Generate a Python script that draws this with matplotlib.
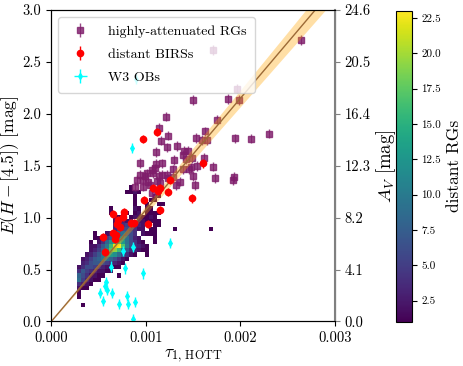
import numpy as np
import matplotlib
matplotlib.use('Agg')
import matplotlib.pyplot as plt

plt.rcParams['font.family'] = 'serif'
plt.rcParams['font.serif'] = ['cmr10', 'DejaVu Serif']
plt.rcParams['mathtext.fontset'] = 'cm'
plt.rcParams['axes.formatter.use_mathtext'] = True

# highly-attenuated red giants
rg_x = [0.002637, 0.001710, 0.001961, 0.001872, 0.001988, 0.001495, 0.001208, 0.001749,
        0.001134, 0.001239, 0.001629, 0.002299, 0.001525, 0.001591, 0.001643, 0.001943,
        0.002112, 0.001160, 0.001220, 0.001326, 0.001110, 0.001403, 0.001449, 0.001396,
        0.001424, 0.001485, 0.001615, 0.001298, 0.000938, 0.001107, 0.001167, 0.001474,
        0.001538, 0.001713, 0.001290, 0.001390, 0.001459, 0.001062, 0.001097, 0.000938,
        0.000991, 0.001079, 0.001142, 0.001220, 0.001284, 0.001502, 0.001731, 0.001932,
        0.000909, 0.000973, 0.001026, 0.001115, 0.001150, 0.001361, 0.001319, 0.001520,
        0.000885, 0.000973, 0.001044, 0.001062, 0.001237, 0.001009, 0.001922, 0.001167]
rg_y = [2.711, 2.615, 2.242, 2.143, 2.133, 2.133, 1.972, 1.945,
        1.868, 1.791, 1.830, 1.809, 1.767, 1.748, 1.748, 1.764,
        1.762, 1.741, 1.676, 1.690, 1.632, 1.645, 1.645, 1.603,
        1.562, 1.572, 1.577, 1.555, 1.526, 1.517, 1.523, 1.485,
        1.497, 1.491, 1.466, 1.466, 1.466, 1.459, 1.475, 1.411,
        1.401, 1.427, 1.401, 1.411, 1.389, 1.401, 1.382, 1.392,
        1.363, 1.363, 1.346, 1.356, 1.331, 1.346, 1.315, 1.315,
        1.298, 1.298, 1.315, 1.235, 1.378, 1.427, 1.363, 1.411]

# distant BIRSs
birs_x = [0.000967, 0.001115, 0.001607, 0.001255, 0.001072, 0.001150, 0.001132, 0.001237,
          0.000980, 0.001150, 0.001485, 0.000656, 0.000769, 0.000755, 0.000709, 0.000692,
          0.000727, 0.000840, 0.000875, 0.001026, 0.000550, 0.000656, 0.000684, 0.000674,
          0.000568]
birs_y = [1.755, 1.822, 1.523, 1.363, 1.288, 1.283, 1.257, 1.250,
          1.170, 1.074, 1.186, 1.032, 1.057, 1.009, 0.977, 0.939,
          0.913, 0.946, 0.946, 0.936, 0.817, 0.849, 0.833, 0.794,
          0.666]

# W3 OB stars
ob_x = [0.000896, 0.000857, 0.000867, 0.000755, 0.001255, 0.000628, 0.000779, 0.000967,
        0.000578, 0.000568, 0.000515, 0.000586, 0.000645, 0.000550, 0.000797, 0.000719,
        0.000814, 0.000885, 0.000861]
ob_y = [2.335, 1.668, 0.720, 0.679, 0.753, 0.528, 0.512, 0.464,
        0.383, 0.345, 0.272, 0.303, 0.277, 0.197, 0.248, 0.169,
        0.166, 0.185, 0.024]

# 2D histogram of distant RGs (top row first), '.' = empty
hist_x0, hist_dx = 0.000272, 0.0000423
hist_y0, hist_dy = 0.1396, 0.0404
hist_rows = [
    ".............1",
    "............1121",
    "..............1....11",
    "..............1...11",
    "..............1..1..11",
    "........1.....21.11",
    "........1..11.12.1111",
    ".........212.1221121",
    ".........23323.221111",
    ".........34454332..11",
    ".........35665422.11....1........1",
    "....1..23589764.2111",
    "....11357acb9632...1",
    "...1.248cfgd96421..1",
    "...2247agmnha64321",
    "...2358chjgb743211",
    "..2357acdc96421..1",
    ".23578a986421",
    ".34677654321",
    "24665432211",
    "475432211",
    "8642211...1",
    "953211",
    "4321",
    "211",
    "1",
    "1",
    "",
    ".1",
]

slope, slope_err = 1075.0, 40.0

levels = '.123456789abcdefghijklmn'
ncol = 35
counts = np.array([[levels.index(c) for c in r.ljust(ncol, '.')] for r in hist_rows[::-1]], float)
counts = np.ma.masked_where(counts == 0, counts)
xe = hist_x0 + hist_dx * np.arange(ncol + 1)
ye = hist_y0 + hist_dy * np.arange(len(hist_rows) + 1)

fig = plt.figure(figsize=(4.63, 3.66), dpi=100)
ax = fig.add_axes([0.1108, 0.1216, 0.6128, 0.8511])
cax = fig.add_axes([0.8546, 0.1208, 0.0346, 0.8497])

mesh = ax.pcolormesh(xe, ye, counts, cmap='viridis', vmin=1, vmax=23, zorder=1)

ax.errorbar(rg_x, rg_y, yerr=0.045, fmt='s', color='#7f1d6b', ms=4.5, elinewidth=1,
            alpha=0.8, label='highly-attenuated RGs', zorder=2)

xx = np.linspace(0, 0.003, 50)
ax.fill_between(xx, (slope - slope_err) * xx, (slope + slope_err) * xx,
                color='orange', alpha=0.35, lw=0, zorder=3)
ax.plot(xx, slope * xx, color='#9c6a36', lw=1, zorder=3)

ax.errorbar(birs_x, birs_y, yerr=0.04, fmt='o', color='red', ms=4.5, elinewidth=1,
            label='distant BIRSs', zorder=4)
ax.errorbar(ob_x, ob_y, yerr=0.05, xerr=0.00001, fmt='d', color='cyan', ms=3,
            elinewidth=1, label='W3 OBs', zorder=4)

ax.set_xlim(0, 0.003)
ax.set_ylim(0, 3.0)
ax.set_xticks([0, 0.001, 0.002, 0.003])
ax.set_xticklabels(['0.000', '0.001', '0.002', '0.003'])
ax.set_yticks(np.arange(0, 3.01, 0.5))
ax.set_yticklabels(['%.1f' % v for v in np.arange(0, 3.01, 0.5)])
ax.tick_params(labelsize=10.5)
ax.set_xlabel(r'$\tau_{1,\,\mathrm{HOTT}}$', fontsize=12.5, labelpad=2)
ax.set_ylabel(r'$E(H-[4.5])$ [mag]', fontsize=12.5, labelpad=1)

leg = ax.legend(loc='upper left', fontsize=10, framealpha=0.8, labelspacing=0.75,
                borderpad=0.6, handletextpad=1.0, handlelength=2.0)

ax2 = ax.twinx()
ax2.set_ylim(0, 24.6)
av_ticks = [0.0, 4.1, 8.2, 12.3, 16.4, 20.5, 24.6]
ax2.set_yticks(av_ticks)
ax2.set_yticklabels(['%.1f' % v for v in av_ticks])
ax2.tick_params(labelsize=10.5, colors='gray', labelcolor='black')
ax2.spines['right'].set_color('gray')
ax2.spines['right'].set_linewidth(1.5)
ax2.set_ylabel(r'$A_V$ [mag]', fontsize=13.5, labelpad=2)

cb = fig.colorbar(mesh, cax=cax)
cb.set_ticks([2.5, 5, 7.5, 10, 12.5, 15, 17.5, 20, 22.5])
cb.ax.set_yticklabels(['%.1f' % v for v in [2.5, 5, 7.5, 10, 12.5, 15, 17.5, 20, 22.5]])
cb.ax.tick_params(labelsize=8)
cb.set_label('distant RGs', fontsize=12.5)

fig.savefig('out.png', dpi=100)
